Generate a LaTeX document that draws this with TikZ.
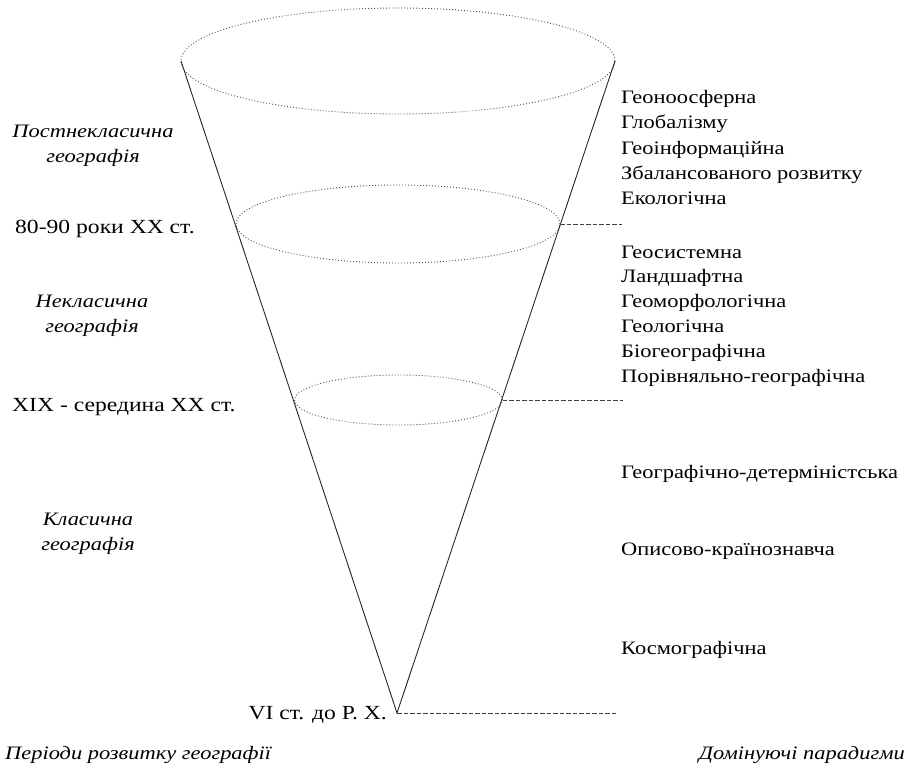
\documentclass[tikz,border=0pt]{standalone}
\usepackage{fontspec}
\setmainfont{Liberation Serif}[FakeStretch=1.18]
\usetikzlibrary{shapes.geometric}
\begin{document}
\begin{tikzpicture}[x=1pt,y=-1pt,
  cone/.style={line width=0.9pt, draw=black!85},
  ring/.style={ellipse, draw=black!70, line width=0.9pt,
    dash pattern=on 0.9pt off 2.1pt, inner sep=0pt, outer sep=0pt},
  level/.style={draw=black!75, line width=0.9pt, dash pattern=on 4.5pt off 2pt},
  para/.style={anchor=base west, font=\fontsize{19}{24}\selectfont, inner sep=0pt},
  era/.style={anchor=base west, font=\fontsize{20}{24}\selectfont, inner sep=0pt},
  stage/.style={font=\fontsize{19}{25}\selectfont\itshape, align=center, inner sep=0pt},
]
\useasboundingbox (0,0) rectangle (909,770);

% the cone: three cross-sections and the apex
\node[ring, minimum width=434pt, minimum height=106pt] (top) at (398,61) {};
\node[ring, minimum width=324pt, minimum height=78pt]  (mid) at (398,224) {};
\node[ring, minimum width=208pt, minimum height=50pt]  (low) at (398.5,400) {};
\coordinate (apex) at (397,713);
\draw[cone] (top.west) -- (apex) -- (top.east);

% level marks towards the paradigm column
\coordinate (midend) at (622,224);
\coordinate (lowend) at (623,400);
\coordinate (apexend) at (618,713);
\draw[level] (mid.east) -- (midend);
\draw[level] (low.east) -- (lowend);
\draw[level] (apex) -- (apexend);

% periods
\node[stage] (s1) at (93,146) {Постнекласична\\географія};
\node[stage] (s2) at (92,316) {Некласична\\географія};
\node[stage] (s3) at (88,534) {Класична\\географія};

% dates
\node[era] (d1) at (15,233) {80-90 роки XX ст.};
\node[era] (d2) at (12,411) {XIX - середина XX ст.};
\node[era, anchor=base east] (d3) at (387,719) {VI ст. до Р. Х.};

% paradigms
\node[para] (p1)  at (621,104) {Геоноосферна};
\node[para] (p2)  at (621,129) {Глобалізму};
\node[para] (p3)  at (621,154) {Геоінформаційна};
\node[para] (p4)  at (621,179) {Збалансованого розвитку};
\node[para] (p5)  at (621,204) {Екологічна};
\node[para] (p6)  at (621,258) {Геосистемна};
\node[para] (p7)  at (621,282) {Ландшафтна};
\node[para] (p8)  at (621,307) {Геоморфологічна};
\node[para] (p9)  at (621,332) {Геологічна};
\node[para] (p10) at (621,357) {Біогеографічна};
\node[para] (p11) at (621,382) {Порівняльно-географічна};
\node[para] (p12) at (621,478) {Географічно-детерміністська};
\node[para] (p13) at (621,555) {Описово-країнознавча};
\node[para] (p14) at (621,654) {Космографічна};

% column captions
\node[stage, anchor=base west] (c1) at (5,759) {Періоди розвитку географії};
\node[stage, anchor=base east] (c2) at (905,759) {Домінуючі парадигми};
\end{tikzpicture}
\end{document}
